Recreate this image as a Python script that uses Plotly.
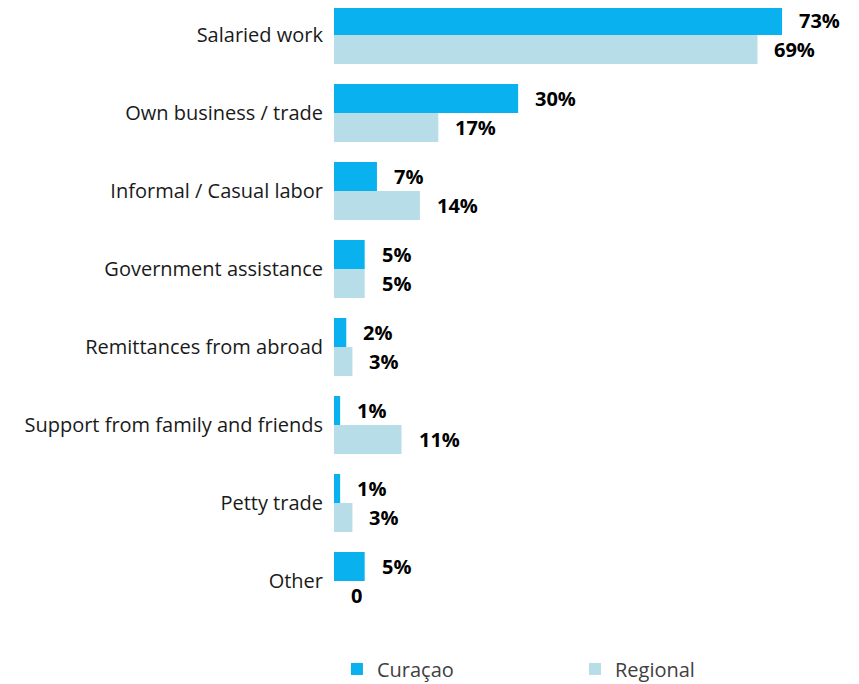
import plotly.graph_objects as go

categories = ["Salaried work", "Own business / trade", "Informal / Casual labor",
              "Government assistance", "Remittances from abroad",
              "Support from family and friends", "Petty trade", "Other"]
curacao = [73, 30, 7, 5, 2, 1, 1, 5]
regional = [69, 17, 14, 5, 3, 11, 3, 0]
curacao_labels = ["73%", "30%", "7%", "5%", "2%", "1%", "1%", "5%"]
regional_labels = ["69%", "17%", "14%", "5%", "3%", "11%", "3%", "0"]

C_CUR = "#0AB1EF"
C_REG = "#B7DDE8"
FONT = "Open Sans"

idx = list(range(len(categories)))

fig = go.Figure()
fig.add_trace(go.Bar(y=idx, x=curacao, orientation="h", name="Curaçao",
                     marker=dict(color=C_CUR, line=dict(width=0)), offsetgroup="a"))
fig.add_trace(go.Bar(y=idx, x=regional, orientation="h", name="Regional",
                     marker=dict(color=C_REG, line=dict(width=0)), offsetgroup="b"))

# value labels
bw = (1 - 0.256) / 2
for i in idx:
    fig.add_annotation(x=curacao[i], y=i - bw / 2, text=f"<b>{curacao_labels[i]}</b>",
                       showarrow=False, xanchor="left", yanchor="middle", xshift=15,
                       font=dict(family=FONT, size=20, color="#000000"))
    fig.add_annotation(x=regional[i], y=i + bw / 2, text=f"<b>{regional_labels[i]}</b>",
                       showarrow=False, xanchor="left", yanchor="middle", xshift=15,
                       font=dict(family=FONT, size=20, color="#000000"))

fig.update_layout(
    width=859, height=684,
    margin=dict(l=326, r=42, t=0, b=72, autoexpand=False),
    paper_bgcolor="white", plot_bgcolor="white",
    barmode="group", bargap=0.256, bargroupgap=0,
    showlegend=True,
    legend=dict(orientation="h", x=0.006, y=-0.080, xanchor="left", yanchor="middle",
                font=dict(family=FONT, size=20, color="#404040"),
                entrywidth=193, entrywidthmode="pixels", traceorder="normal"),
    xaxis=dict(range=[0, 80], visible=False, showgrid=False, zeroline=False),
    yaxis=dict(range=[7.5, -0.346], tickmode="array", tickvals=idx, ticktext=categories,
               showgrid=False, zeroline=False, showline=False, ticks="",
               ticklabelstandoff=10,
               tickfont=dict(family=FONT, size=20, color="#1a1a1a")),
)

fig.write_html("out.html")
